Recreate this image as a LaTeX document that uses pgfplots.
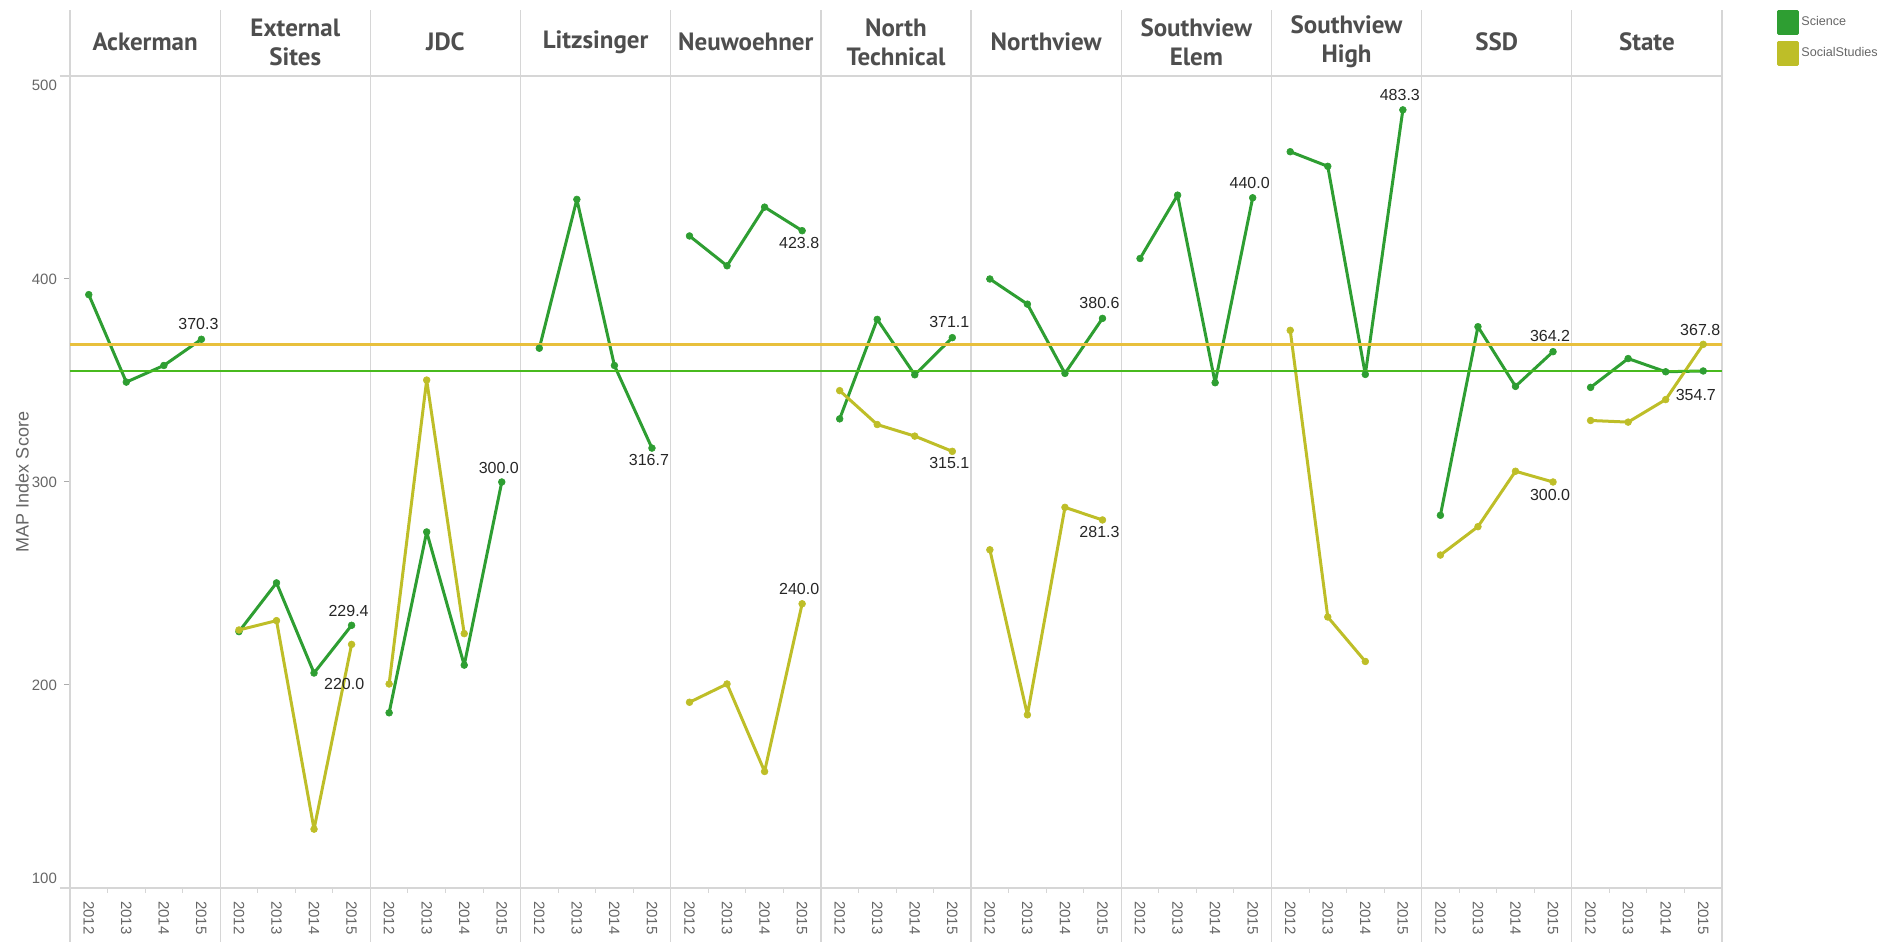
\documentclass[border=0pt]{standalone}
\usepackage{pgfplots}
\usepackage{pgfplotstable}
\pgfplotsset{compat=1.18}
\usepackage{fontspec}
\setmainfont{Liberation Sans}
\newfontfamily\hdr{PT Sans}
\definecolor{sci}{RGB}{46,158,50}
\definecolor{soc}{RGB}{190,190,40}
\definecolor{sciref}{RGB}{72,186,30}
\definecolor{socref}{RGB}{232,192,60}
\definecolor{gridc}{RGB}{214,214,214}
\definecolor{hdrc}{RGB}{78,78,78}
\definecolor{tickc}{RGB}{102,102,102}

% x = 4*panel + (year-2012)
\pgfplotstableread{
x y
0 392.3
1 349.2
2 357.4
3 370.3
3.5 nan
4 226.3
5 250.3
6 205.9
7 229.4
7.5 nan
8 186.3
9 275.4
10 209.8
11 300.0
11.5 nan
12 365.9
13 439.2
14 357.4
15 316.7
15.5 nan
16 421.2
17 406.5
18 435.4
19 423.8
19.5 nan
20 331.1
21 380.1
22 352.8
23 371.1
23.5 nan
24 400.0
25 387.6
26 353.5
27 380.6
27.5 nan
28 410.1
29 441.3
30 348.9
31 440.0
31.5 nan
32 462.7
33 455.5
34 353.0
35 483.3
35.5 nan
36 283.6
37 376.5
38 347.1
39 364.2
39.5 nan
40 346.6
41 360.8
42 354.3
43 354.7
}\science

\pgfplotstableread{
x y
4 227.1
5 231.7
6 129.0
7 220.0
7.5 nan
8 200.5
9 350.2
10 225.3
11.5 nan
16 191.5
17 200.5
18 157.4
19 240.0
19.5 nan
20 345.0
21 328.3
22 322.6
23 315.1
23.5 nan
24 266.6
25 185.3
26 287.5
27 281.3
27.5 nan
32 374.7
33 233.5
34 211.6
35.5 nan
36 264.0
37 278.0
38 305.3
39 300.0
39.5 nan
40 330.3
41 329.5
42 340.6
43 367.8
}\social

\pgfplotstableread{
x y lab dx dy
3 370.3 370.3 -1.5 7.6
7 229.4 229.4 -1.5 7.2
11 300.0 300.0 -1.5 7.2
15 316.7 316.7 -1.5 -6.0
19 423.8 423.8 -1.5 -6.0
23 371.1 371.1 -1.5 7.6
27 380.6 380.6 -1.5 7.6
31 440.0 440.0 -1.5 7.6
35 483.3 483.3 -1.5 7.6
39 364.2 364.2 -1.5 7.6
43 354.7 354.7 -3.7 -12.0
7 220.0 220.0 -3.7 -20.0
19 240.0 240.0 -1.5 7.6
23 315.1 315.1 -1.5 -6.0
27 281.3 281.3 -1.5 -6.0
39 300.0 300.0 -1.5 -6.5
43 367.8 367.8 -1.5 7.3
}\labels

\begin{document}
\begin{tikzpicture}
\begin{axis}[
  scale only axis, width=826pt, height=406pt,
  xmin=-0.5, xmax=43.5, ymin=100, ymax=500,
  clip=false,
  axis line style={gridc, line width=0.6pt},
  xtick={0,...,43},
  xticklabels={2012,2013,2014,2015,2012,2013,2014,2015,2012,2013,2014,2015,2012,2013,2014,2015,2012,2013,2014,2015,2012,2013,2014,2015,2012,2013,2014,2015,2012,2013,2014,2015,2012,2013,2014,2015,2012,2013,2014,2015,2012,2013,2014,2015},
  minor xtick={0.5,1.5,...,42.5},
  xtick pos=bottom, ytick pos=left,
  tick align=outside,
  major x tick style={draw=none},
  minor x tick style={gridc, line width=0.5pt},
  minor tick length=2.5pt,
  major tick length=3pt,
  ytick={100,200,300,400,500},
  yticklabels={,200,300,400,},
  ytick style={gridc!80!black, line width=0.5pt},
  yticklabel style={font=\fontsize{7.5}{9}\selectfont, text=tickc},
  xticklabel style={rotate=-90, anchor=west, font=\fontsize{7.5}{9}\selectfont, text=tickc},
  ylabel={MAP Index Score},
  ylabel style={font=\fontsize{9}{10}\selectfont, text=tickc, at={(axis description cs:-0.029,0.5)}, anchor=center},
  unbounded coords=jump,
  legend style={at={(axis description cs:1,1)}, anchor=north west, xshift=27.5pt, yshift=33pt,
    draw=none, fill=none, font=\fontsize{6.3}{7.5}\selectfont, text=tickc,
    row sep=3pt, inner sep=0pt, nodes={inner sep=1pt}},
  legend cell align=left,
  legend image code/.code={\fill[#1] (0pt,-5.5pt) rectangle (9.5pt,5.5pt);},
]
% panel dividers and frame extensions
\pgfplotsinvokeforeach{-0.5,3.5,7.5,11.5,15.5,19.5,23.5,27.5,31.5,35.5,39.5,43.5}{
  \draw[gridc, line width=0.6pt] ([yshift=-27pt]axis cs:#1,100) -- ([yshift=33pt]axis cs:#1,500);
}
\draw[gridc, line width=0.6pt] ([xshift=-5pt]axis cs:-0.5,500) -- (axis cs:-0.5,500);
\draw[gridc, line width=0.6pt] ([xshift=-5pt]axis cs:-0.5,100) -- (axis cs:-0.5,100);

\addplot[sci, line width=1.5pt, line join=round, line cap=round, mark=*, mark size=1.7pt, mark options={line width=0.3pt}] table[x=x, y=y] {\science};
\addlegendentry{Science}
\addplot[soc, line width=1.5pt, line join=round, line cap=round, mark=*, mark size=1.7pt, mark options={line width=0.3pt}] table[x=x, y=y] {\social};
\addlegendentry{SocialStudies}

\addplot[socref, line width=1.2pt, forget plot] coordinates {(-0.5,367.8) (43.5,367.8)};
\addplot[sciref, line width=1.2pt, forget plot] coordinates {(-0.5,354.7) (43.5,354.7)};

\addplot[draw=none, mark=none, forget plot,
  nodes near coords, point meta=explicit symbolic,
  visualization depends on={\thisrow{dx} \as \dx},
  visualization depends on={\thisrow{dy} \as \dy},
  nodes near coords style={anchor=center, inner sep=0pt, xshift=\dx pt, yshift=\dy pt,
    font=\fontsize{8}{9}\selectfont, text=black!85}]
  table[x=x, y=y, meta=lab] {\labels};

% end tick labels, shifted inside the pane as in the original
\node[anchor=east, font=\fontsize{7.5}{9}\selectfont, text=tickc] at ([xshift=-3pt, yshift=-4.5pt]axis cs:-0.5,500) {500};
\node[anchor=east, font=\fontsize{7.5}{9}\selectfont, text=tickc] at ([xshift=-3pt, yshift=5pt]axis cs:-0.5,100) {100};

% panel headers
\tikzset{hd/.style={font=\hdr\bfseries\fontsize{12.5}{14.5}\selectfont, text=hdrc, align=center, anchor=center}}
\node[hd] at ([yshift=17pt]axis cs:1.5,500) {Ackerman};
\node[hd] at ([yshift=17pt]axis cs:5.5,500) {External\\Sites};
\node[hd] at ([yshift=17pt]axis cs:9.5,500) {JDC};
\node[hd] at ([yshift=17pt]axis cs:13.5,500) {Litzsinger};
\node[hd] at ([yshift=17pt]axis cs:17.5,500) {Neuwoehner};
\node[hd] at ([yshift=17pt]axis cs:21.5,500) {North\\Technical};
\node[hd] at ([yshift=17pt]axis cs:25.5,500) {Northview};
\node[hd] at ([yshift=17pt]axis cs:29.5,500) {Southview\\Elem};
\node[hd] at ([yshift=17pt]axis cs:33.5,500) {Southview\\High};
\node[hd] at ([yshift=17pt]axis cs:37.5,500) {SSD};
\node[hd] at ([yshift=17pt]axis cs:41.5,500) {State};
\end{axis}
\pgfresetboundingbox
\path (-35pt,-27pt) rectangle (907.5pt,444pt);
\end{tikzpicture}
\end{document}
